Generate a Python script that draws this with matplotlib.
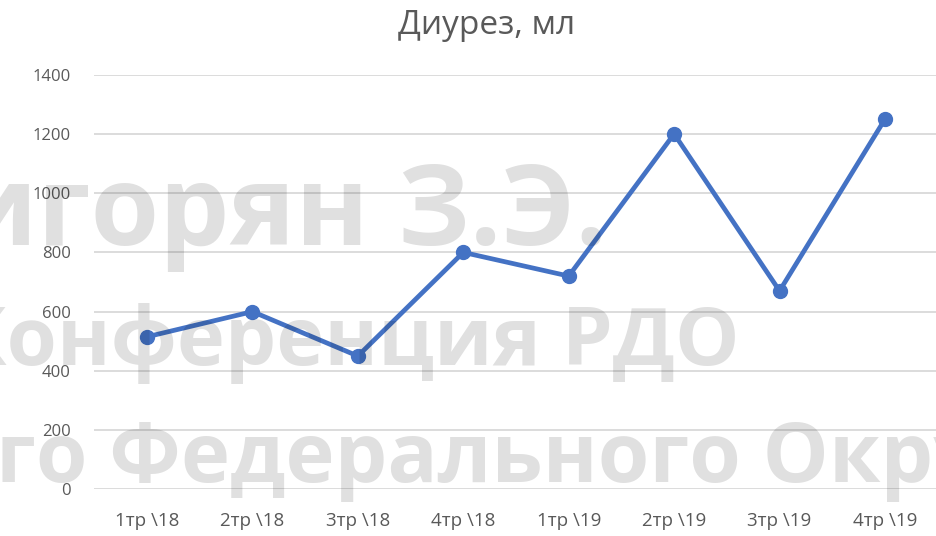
import matplotlib
matplotlib.use("Agg")
import matplotlib.pyplot as plt

categories = ["1тр \\18", "2тр \\18", "3тр \\18", "4тр \\18",
              "1тр \\19", "2тр \\19", "3тр \\19", "4тр \\19"]
values = [515, 600, 450, 800, 720, 1200, 670, 1250]
yticks = [0, 200, 400, 600, 800, 1000, 1200, 1400]
title = "Диурез, мл"
watermark = ["Григорян З.Э.", "Конференция РДО", "го Федерального Округа"]

W, H = 936, 536
fig = plt.figure(figsize=(W / 100, H / 100), dpi=100)
font = ["Open Sans", "DejaVu Sans"]

left, right = 94.3, 937.7
top, bottom = 74.7, 489.3
ax = fig.add_axes([left / W, 1 - bottom / H, (right - left) / W, (bottom - top) / H])

x = list(range(len(categories)))
ax.plot(x, values, color="#4472C4", lw=3.4, marker="o", markersize=10,
        solid_capstyle="round", solid_joinstyle="round", zorder=3, clip_on=False)
ax.set_xlim(-0.5, len(categories) - 0.5)
ax.set_ylim(0, 1400)
ax.set_yticks(yticks)
ax.set_yticklabels([str(v) for v in yticks])
ax.set_xticks(x)
ax.set_xticklabels(categories)
ax.grid(axis="y", color="#d9d9d9", lw=1.3)
ax.set_axisbelow(True)
for s in ax.spines.values():
    s.set_visible(False)
ax.tick_params(length=0, colors="#595959", labelsize=12)
ax.tick_params(axis="y", pad=17)
ax.tick_params(axis="x", pad=16, labelsize=13.5)
for lab in ax.get_xticklabels() + ax.get_yticklabels():
    lab.set_family(font)
    lab.set_color("#595959")

fig.text(487 / W, 1 - 34 / H, title, ha="center", va="baseline",
         fontsize=24, color="#595959", family=font)

wm_kw = dict(family=font, fontweight="bold", color="black", alpha=0.12, va="baseline", zorder=10)
fig.text(607 / W, 1 - 245 / H, watermark[0], ha="right", fontsize=80, **wm_kw)
fig.text(740 / W, 1 - 365 / H, watermark[1], ha="right", fontsize=58.5, **wm_kw)
fig.text(-4 / W, 1 - 482 / H, watermark[2], ha="left", fontsize=60, **wm_kw)

fig.savefig("out.png", dpi=100)
